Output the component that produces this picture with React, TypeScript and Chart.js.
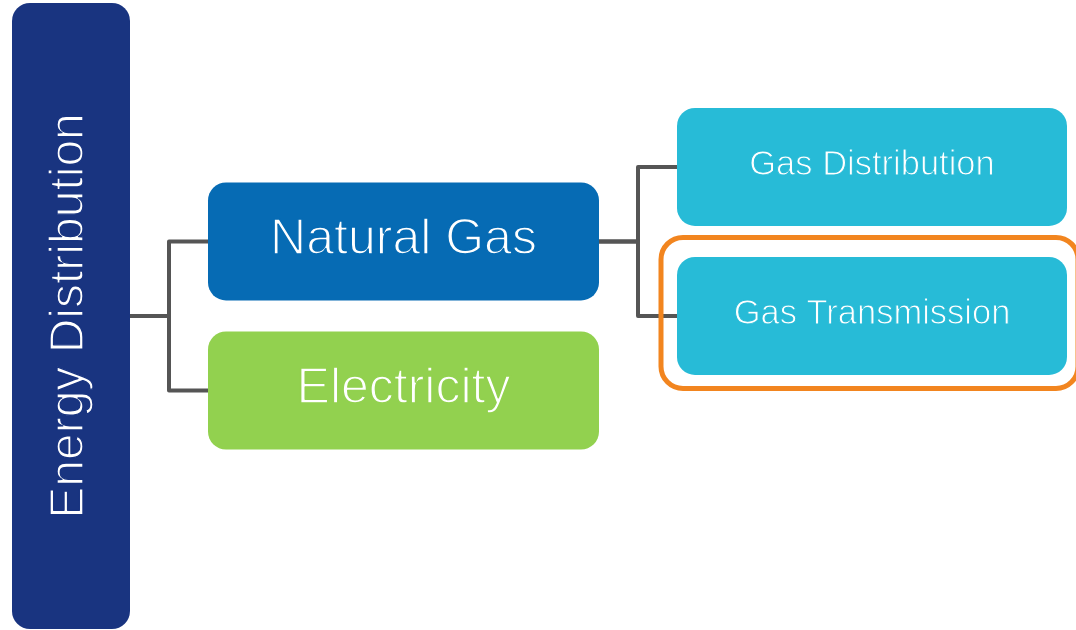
import { useEffect, useRef } from "react";
import { Chart, registerables } from "chart.js";

Chart.register(...registerables);

// ---- data ----
const NODE_LABELS = ["Energy Distribution", "Natural Gas", "Electricity", "Gas Distribution", "Gas Transmission"];
const NODE_PARENTS = [-1, 0, 0, 1, 1];
const NODE_COLORS = ["#193480", "#066bb4", "#92d14f", "#27bbd7", "#27bbd7"];
const HIGHLIGHTED = ["Gas Transmission"];

// ---- layout (scale units) ----
const X_MIN = 0;
const X_MAX = 1076;
const COL_LEFT = [12, 208, 677];
const COL_RIGHT = [130, 599, 1067];
const Y_MIN = -1.12;
const Y_MAX = 3.107;
const BOX_H = 0.792;
const FONT_SIZES = [48, 50, 34.5];
const THIN_WIDTHS = [1.4, 1.5, 1.0];
const BASELINE_OFFSETS = [12, 13, 8];
const FONT = '"Liberation Sans", Arial, Helvetica, sans-serif';
const LINE_COLOR = "#555555";
const HIGHLIGHT_COLOR = "#f2851f";

function computeLayout() {
  const n = NODE_LABELS.length;
  const levels: number[] = new Array(n).fill(0);
  const rows: number[] = new Array(n).fill(0);
  const kids = (i: number) => NODE_PARENTS.map((p, j) => (p === i ? j : -1)).filter((j) => j >= 0);
  for (let i = 0; i < n; i++) {
    let l = 0;
    let p = NODE_PARENTS[i];
    while (p >= 0) { l++; p = NODE_PARENTS[p]; }
    levels[i] = l;
  }
  const place = (i: number, start: number): void => {
    const c = kids(i);
    if (c.length === 0) { rows[i] = start; return; }
    let prev = start - 1;
    c.forEach((k, idx) => {
      const ck = kids(k);
      if (ck.length === 0) {
        rows[k] = idx === 0 ? start : prev + 1;
      } else {
        place(k, idx === 0 ? start : prev + 1 - 0.5 * (ck.length - 1));
      }
      prev = rows[k];
    });
    rows[i] = c.reduce((s, k) => s + rows[k], 0) / c.length;
  };
  const root = NODE_PARENTS.indexOf(-1);
  place(root, 0);
  return { levels, rows, kids };
}

function roundRect(ctx: CanvasRenderingContext2D, x: number, y: number, w: number, h: number, r: number) {
  ctx.beginPath();
  ctx.moveTo(x + r, y);
  ctx.lineTo(x + w - r, y);
  ctx.arcTo(x + w, y, x + w, y + r, r);
  ctx.lineTo(x + w, y + h - r);
  ctx.arcTo(x + w, y + h, x + w - r, y + h, r);
  ctx.lineTo(x + r, y + h);
  ctx.arcTo(x, y + h, x, y + h - r, r);
  ctx.lineTo(x, y + r);
  ctx.arcTo(x, y, x + r, y, r);
  ctx.closePath();
}

const treePlugin = {
  id: "tree",
  afterDatasetsDraw(chart: any) {
    const { ctx } = chart;
    const xs = chart.scales.x;
    const ys = chart.scales.y;
    const { levels, rows, kids } = computeLayout();
    const n = NODE_LABELS.length;

    const box = (i: number) => {
      const l = levels[i];
      const x0 = xs.getPixelForValue(COL_LEFT[l]);
      const x1 = xs.getPixelForValue(COL_RIGHT[l]);
      let y0: number, y1: number;
      if (NODE_PARENTS[i] === -1) {
        y0 = ys.getPixelForValue(Y_MIN + 0.02);
        y1 = ys.getPixelForValue(Y_MAX - 0.006);
      } else {
        y0 = ys.getPixelForValue(rows[i] - BOX_H / 2);
        y1 = ys.getPixelForValue(rows[i] + BOX_H / 2);
      }
      return { x0, x1, y0, y1, cx: (x0 + x1) / 2, cy: ys.getPixelForValue(rows[i]) };
    };

    ctx.save();
    // connectors
    ctx.strokeStyle = LINE_COLOR;
    ctx.lineWidth = 4;
    ctx.lineJoin = "round";
    ctx.lineCap = "butt";
    for (let i = 0; i < n; i++) {
      const c = kids(i);
      if (!c.length) continue;
      const pb = box(i);
      c.forEach((k) => {
        const cb = box(k);
        const mid = (pb.x1 + cb.x0) / 2;
        ctx.beginPath();
        ctx.moveTo(pb.x1, pb.cy);
        ctx.lineTo(mid, pb.cy);
        ctx.lineTo(mid, cb.cy);
        ctx.lineTo(cb.x0, cb.cy);
        ctx.stroke();
      });
    }

    // boxes
    for (let i = 0; i < n; i++) {
      const b = box(i);
      ctx.fillStyle = NODE_COLORS[i];
      roundRect(ctx, b.x0, b.y0, b.x1 - b.x0, b.y1 - b.y0, 18);
      ctx.fill();

      if (HIGHLIGHTED.includes(NODE_LABELS[i])) {
        ctx.strokeStyle = HIGHLIGHT_COLOR;
        ctx.lineWidth = 5;
        roundRect(ctx, b.x0 - 16, b.y0 - 19.5, b.x1 - b.x0 + 27, b.y1 - b.y0 + 33, 22);
        ctx.stroke();
      }

      const l = levels[i];
      ctx.font = `${FONT_SIZES[l]}px ${FONT}`;
      ctx.textAlign = "center";
      ctx.textBaseline = "alphabetic";
      ctx.lineJoin = "round";
      const draw = (x: number, y: number) => {
        ctx.fillStyle = "#ffffff";
        ctx.fillText(NODE_LABELS[i], x, y);
        ctx.strokeStyle = NODE_COLORS[i];
        ctx.lineWidth = THIN_WIDTHS[l];
        ctx.strokeText(NODE_LABELS[i], x, y);
      };
      if (NODE_PARENTS[i] === -1) {
        ctx.save();
        ctx.translate(b.cx, ys.getPixelForValue(rows[i]));
        ctx.rotate(-Math.PI / 2);
        draw(0, BASELINE_OFFSETS[l]);
        ctx.restore();
      } else {
        draw(b.cx, b.cy + BASELINE_OFFSETS[l]);
      }
    }
    ctx.restore();
  },
};

export default function App() {
  const ref = useRef<HTMLCanvasElement | null>(null);
  useEffect(() => {
    document.body.style.margin = "0";
    const canvas = ref.current;
    if (!canvas) return;
    const { levels, rows } = computeLayout();
    const chart = new Chart(canvas, {
      type: "scatter",
      data: {
        datasets: [
          {
            label: "nodes",
            data: NODE_LABELS.map((_, i) => ({ x: (COL_LEFT[levels[i]] + COL_RIGHT[levels[i]]) / 2, y: rows[i] })),
            pointRadius: 0,
            pointHoverRadius: 0,
          },
        ],
      },
      options: {
        animation: false,
        responsive: false,
        maintainAspectRatio: false,
        layout: { padding: 0 },
        plugins: { legend: { display: false }, tooltip: { enabled: false } },
        events: [],
        scales: {
          x: { type: "linear", min: X_MIN, max: X_MAX, display: false },
          y: { type: "linear", min: Y_MIN, max: Y_MAX, reverse: true, display: false },
        },
      },
      plugins: [treePlugin],
    });
    return () => chart.destroy();
  }, []);
  return (
    <div style={{ position: "absolute", left: 0, top: 0, width: 1076, height: 630, background: "#ffffff" }}>
      <canvas ref={ref} width={1076} height={630} style={{ display: "block" }} />
    </div>
  );
}
